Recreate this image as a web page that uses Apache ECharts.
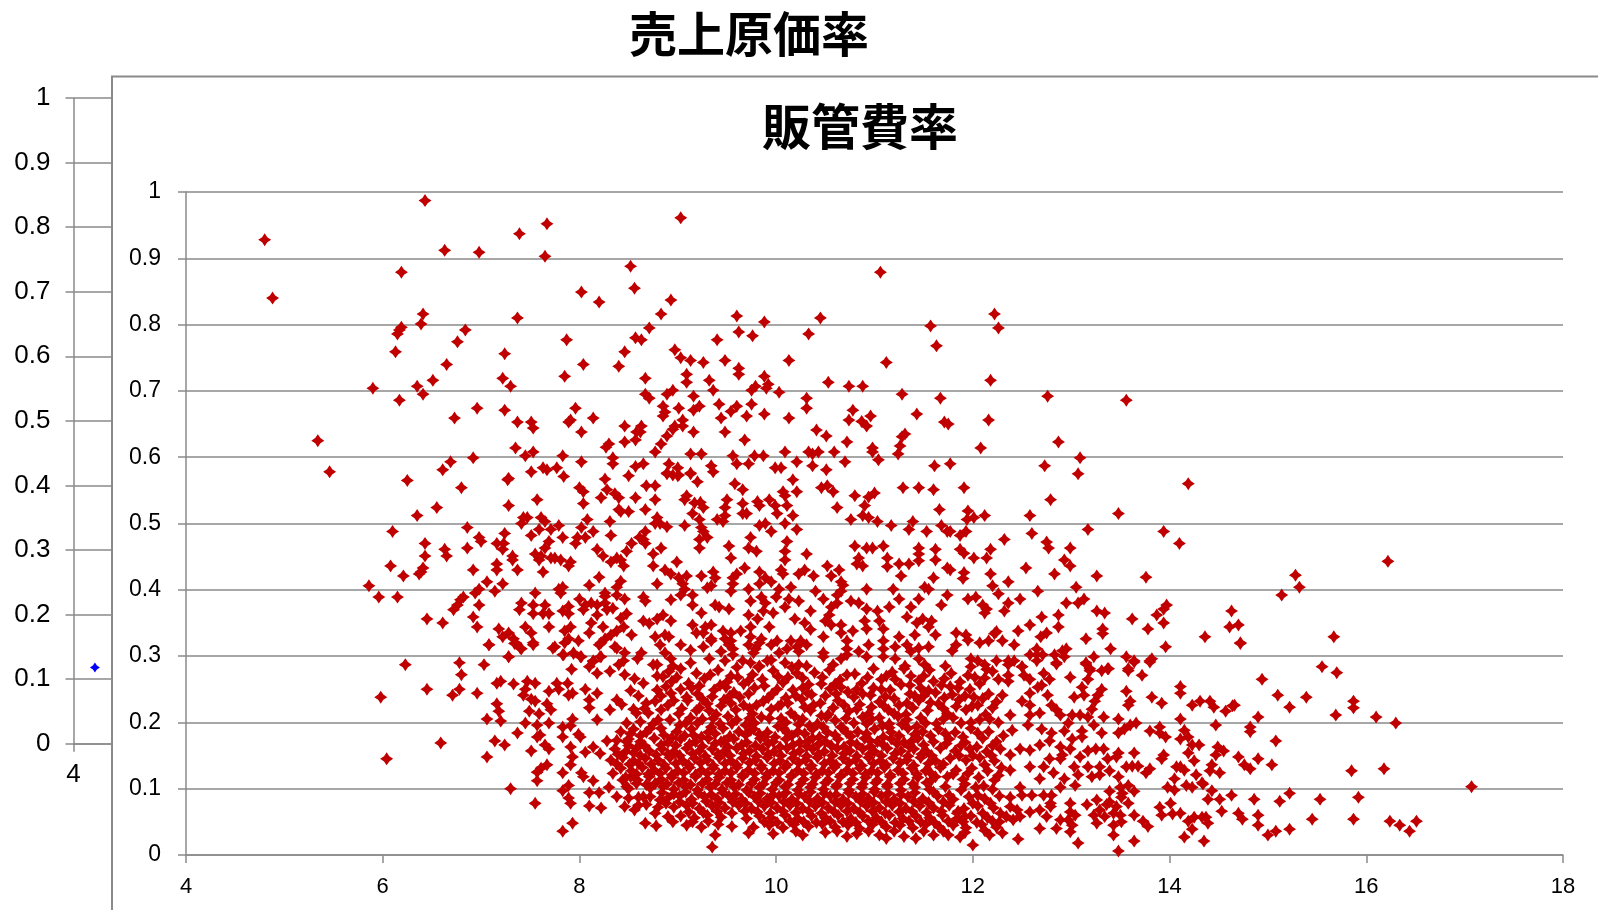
<!DOCTYPE html>
<html lang="ja"><head><meta charset="utf-8">
<style>html,body{margin:0;padding:0;background:#fff;overflow:hidden}#c{width:1598px;height:910px}</style>
<script src="https://cdn.jsdelivr.net/npm/echarts@6/dist/echarts.min.js"></script>
</head><body><div id="c"></div>
<script>
const outerTitle='売上原価率';
const innerTitle='販管費率';
const outerPoints=[[4.2,.118]];
const upperLeft=[[4.8,.928],[4.88,.84],[5.34,.625],[5.46,.578],[6.43,.987],[7.67,.952],[7.39,.937],[9.03,.961],[6.63,.912],[6.98,.909],[7.65,.903],[6.19,.879],[8.52,.888],[8.56,.855],[8.02,.849],[8.2,.834],[8.93,.837],[8.83,.816],[6.41,.816],[6.39,.801],[7.37,.81],[6.19,.796],[6.17,.792],[6.15,.786],[6.84,.792],[8.71,.795],[9.6,.813],[9.88,.804],[9.62,.789],[9.76,.783],[6.76,.774],[7.87,.777],[8.57,.78],[8.63,.777],[9.4,.777],[6.13,.759],[7.24,.756],[8.46,.759],[8.97,.762],[9.03,.75],[9.13,.746],[9.26,.743],[9.48,.746],[10.13,.746],[6.65,.74],[8.04,.74],[8.4,.737],[9.62,.734],[9.62,.725],[9.09,.725],[9.88,.722],[7.85,.722],[7.22,.719],[6.51,.716],[8.67,.719],[9.09,.713],[9.32,.716],[6.35,.707],[7.3,.707],[5.9,.704],[6.41,.695],[9.79,.707],[9.75,.701],[9.92,.71],[9.9,.704],[9.36,.701],[8.95,.701],[8.89,.695],[8.67,.695],[8.71,.689],[9.16,.692],[10.03,.698],[6.17,.686],[7.96,.674],[6.96,.674],[7.24,.671],[8.85,.677],[8.87,.668],[8.85,.662],[9.01,.674],[9.16,.671],[9.22,.677],[9.42,.68],[9.54,.669],[9.6,.677],[9.75,.68],[9.88,.665],[9.7,.662],[9.44,.659],[10.13,.659],[6.73,.659],[8.14,.659],[7.91,.656],[7.89,.653],[7.37,.653],[7.51,.653],[7.53,.644],[9.05,.656],[8.02,.638],[8.46,.647],[8.63,.647],[8.62,.638],[8.58,.638],[8.97,.647],[8.95,.642],[9.05,.647],[9.16,.638],[9.48,.638],[8.89,.632],[9.68,.626],[8.57,.626],[8.46,.623],[8.83,.62],[8.3,.62],[8.27,.615],[7.35,.614],[7.53,.608],[7.45,.602],[7.83,.602],[6.92,.599],[6.69,.593],[6.61,.581],[8.77,.608],[9.13,.605],[9.24,.605],[9.56,.602],[9.78,.602],[9.87,.602],[10.09,.608],[8.34,.599],[8.02,.593],[8.34,.59],[8.91,.59],[9.6,.59],[9.72,.59],[10.21,.593],[8.65,.59],[8.57,.586],[9.34,.587],[7.63,.584],[7.67,.581],[7.77,.584],[7.51,.578],[9,.584],[9.36,.578],[9.99,.584],[10.05,.584],[9.13,.576],[8.89,.576],[9,.572],[8.5,.572],[7.84,.571],[7.28,.568],[8.26,.567],[6.25,.565]];
const upperRight=[[11.06,.879],[10.45,.81],[12.22,.816],[12.26,.795],[11.57,.798],[10.33,.786],[11.63,.768],[11.12,.743],[10.53,.713],[10.74,.707],[10.88,.707],[12.18,.716],[11.28,.695],[10.31,.689],[10.31,.674],[11.67,.689],[12.76,.692],[13.56,.686],[10.78,.671],[10.96,.662],[11.43,.665],[10.74,.656],[10.87,.654],[10.92,.647],[11.71,.653],[11.75,.65],[12.16,.656],[10.41,.641],[10.51,.632],[11.31,.635],[11.28,.631],[10.72,.623],[12.87,.623],[11.26,.617],[10.98,.614],[10.98,.608],[12.08,.614],[11.24,.605],[10.33,.608],[10.37,.605],[10.43,.608],[10.59,.608],[11.04,.596],[10.7,.593],[13.09,.599],[10.37,.587],[10.51,.581],[11.61,.587],[11.77,.59],[12.73,.587],[13.07,.575]];
const middleLeft=[[6.8,.554],[7.27,.566],[8.68,.557],[8,.554],[8.04,.548],[8.28,.551],[8.22,.539],[8.36,.545],[8.4,.539],[8.57,.539],[7.57,.536],[8.04,.53],[7.28,.527],[6.55,.524],[6.35,.512],[8.4,.521],[8.42,.518],[8.5,.518],[8.67,.521],[7.47,.509],[7.43,.509],[7.41,.5],[7.61,.509],[7.65,.503],[7.79,.497],[8.08,.506],[8.31,.503],[6.86,.494],[6.1,.488],[7.59,.491],[7.71,.491],[8.02,.494],[8.14,.488],[7.24,.485],[8.67,.488],[7.51,.482],[7.83,.479],[8.32,.482],[6.98,.479],[7,.473],[8.06,.479],[7.98,.479],[7.96,.47],[7.69,.473],[8.61,.479],[8.65,.476],[8.67,.47],[8.53,.47],[6.43,.47],[7.16,.47],[7.23,.47],[7.65,.463],[6.63,.461],[6.86,.463],[7.22,.461],[8.18,.461],[8.48,.458],[6.43,.451],[6.65,.451],[7.55,.454],[7.32,.451],[7.32,.445],[8.24,.451],[7.59,.445],[7.61,.451],[7.71,.448],[7.75,.448],[7.81,.445],[7.91,.442],[7.89,.436],[8.38,.448],[8.32,.442],[8.42,.445],[8.45,.436],[6.08,.436],[7.16,.439],[6.41,.433],[6.39,.427],[6.37,.424],[7.16,.43],[6.92,.43],[7.37,.43],[7.63,.427],[6.21,.421],[7.06,.412],[8.2,.419],[8.42,.413],[8.38,.404],[7.22,.409],[8.1,.407],[5.86,.406],[7.79,.401],[7.83,.404],[7.81,.395],[6.98,.401],[6.94,.395],[7.14,.398],[7.55,.395],[5.96,.389],[6.15,.389],[8.26,.395],[8.38,.392],[8.46,.386],[8.65,.389],[8.67,.383],[6.82,.389],[6.79,.385],[6.76,.377],[6.72,.37],[8,.386],[7.41,.38],[7.39,.37],[6.98,.377],[7.53,.377],[7.53,.364],[7.65,.377],[7.63,.364],[7.69,.364],[7.89,.375],[7.83,.368],[7.89,.364],[8.06,.377],[8.12,.38],[8.04,.37],[8.18,.377],[8.18,.362],[8.26,.38],[8.26,.39],[8.28,.37],[8.34,.372],[8.48,.364],[8.42,.357],[6.92,.359],[6.45,.356],[6.61,.35],[6.96,.344],[7.18,.341],[7.45,.344],[7.69,.344],[7.91,.344],[7.85,.338],[8.12,.35],[8.24,.344],[8.65,.353],[8.71,.349],[7.28,.335],[7.22,.329],[7.51,.335],[8.1,.335],[8.53,.332],[8.45,.344],[8.38,.338],[8.32,.332],[8.26,.326],[8.22,.32],[7.33,.326],[7.35,.32],[7.08,.317],[7.53,.32],[7.41,.311],[7.89,.326],[7.99,.323],[7.85,.32],[7.75,.314],[8.2,.317],[8.36,.314],[7.83,.302],[7.94,.305],[8.02,.299],[8.22,.299],[8.46,.305],[8.63,.305],[8.59,.296],[7.28,.299],[6.23,.287],[6.78,.29],[7.03,.287],[8.14,.293],[8.45,.293],[7.92,.28],[8.1,.284],[8.4,.287]];
const middleCentre=[[8.89,.575],[8.95,.573],[9.01,.573],[9.13,.575],[9.2,.563],[8.77,.557],[9.58,.56],[9.66,.551],[10.17,.566],[10.21,.548],[10.07,.548],[10.09,.542],[10.46,.554],[10.52,.557],[10.58,.548],[11.29,.554],[11.45,.554],[11.6,.551],[10.8,.542],[11,.546],[10.94,.54],[8.77,.536],[9.09,.542],[9.07,.536],[9.5,.536],[9.17,.531],[9.23,.532],[9.26,.524],[9.66,.53],[9.81,.533],[9.83,.527],[9.93,.536],[9.99,.527],[10.11,.527],[10.9,.527],[10.62,.524],[9.48,.524],[9.48,.512],[10.01,.515],[9.15,.515],[9.7,.515],[9.66,.515],[10.17,.512],[10.88,.512],[10.94,.509],[11.66,.521],[8.79,.509],[9.22,.506],[9.4,.506],[9.46,.503],[8.77,.5],[8.82,.5],[8.89,.495],[9.07,.497],[9.83,.497],[9.89,.5],[10.09,.5],[10.76,.506],[11.03,.503],[11.17,.497],[11.39,.503],[11.68,.497],[11.35,.491],[9.95,.488],[10.21,.491],[9.24,.494],[9.26,.488],[11.53,.488],[11.74,.488],[9.3,.479],[9.22,.476],[9.74,.479],[10.11,.473],[9.22,.463],[9.52,.466],[9.72,.463],[8.83,.463],[10.8,.466],[10.92,.463],[10.98,.463],[11.09,.466],[11.45,.463],[11.62,.461],[9.8,.458],[10.09,.458],[10.31,.454],[8.75,.454],[9.54,.448],[10.09,.445],[10.84,.448],[11.13,.448],[11.45,.454],[11.62,.445],[8.99,.442],[10.88,.436],[10.82,.439],[10.52,.436],[11.13,.435],[11.25,.439],[11.35,.439],[11.45,.444],[8.75,.436],[9.68,.433],[8.87,.43],[9.36,.427],[10.05,.43],[10.29,.43],[10.64,.43],[8.93,.424],[9.6,.424],[9.83,.427],[10.07,.424],[10.23,.424],[10.38,.421],[10.56,.421],[11.27,.421],[11.6,.418],[11.74,.433],[9.24,.421],[9.09,.421],[9.01,.418],[9.38,.418],[9.89,.418],[9.56,.418],[8.79,.409],[9.05,.409],[9.83,.409],[9.95,.412],[10.66,.412],[9.56,.409],[9.34,.406],[9.3,.403],[10.68,.407],[11.51,.404],[9.07,.401],[9.72,.401],[10.03,.401],[10.15,.404],[10.66,.398],[10.4,.398],[10.92,.401],[11.19,.401],[11.55,.401],[9.54,.398],[9.03,.392],[8.93,.385],[9.15,.392],[10.62,.392],[10.48,.386],[9.85,.389],[10,.389],[10.13,.386],[10.23,.383],[10.76,.383],[10.84,.38],[11.25,.386],[11.45,.386],[11.74,.392],[9.74,.383],[9.89,.38],[10.62,.38],[9.15,.377],[9.38,.377],[9.42,.374],[9.52,.371],[10.09,.374],[10.92,.371],[11.03,.368],[11.15,.374],[11.37,.374],[11.68,.377],[10.35,.368],[10.56,.374],[9.97,.365],[9.72,.362],[9.24,.365],[9.87,.368],[9.81,.356],[10.19,.356],[10.54,.362],[10.5,.353],[11.33,.359],[11.49,.356],[11.58,.353],[8.93,.353],[8.85,.362],[8.79,.356],[10.29,.35],[10.9,.353],[11.05,.353],[11.43,.35],[9.93,.344],[9.15,.347],[9.34,.347],[9.28,.344],[9.74,.344],[10.66,.347],[10.56,.347],[10.92,.341],[11.09,.341],[11.55,.344],[9.46,.338],[9.54,.335],[9.64,.338],[9.19,.335],[9.26,.335],[10.35,.34],[10.78,.338],[10.48,.329],[10.66,.335],[11.25,.329],[11.41,.332],[11.62,.332],[9.74,.329],[8.87,.332],[8.77,.329],[8.91,.329],[9.34,.326],[9.48,.326],[9.54,.323],[9.85,.326],[10.15,.323],[10.25,.323],[10.72,.323],[11.09,.323],[9.03,.317],[8.82,.317],[10.94,.317],[11.21,.314],[11.33,.317],[11.45,.312],[11.55,.314],[10.01,.323],[9.95,.317],[9.72,.317],[10.21,.314],[10.31,.317],[10.72,.311],[11.09,.311],[9.13,.309],[9.26,.314],[9.34,.323],[9.52,.317],[9.56,.311],[9.79,.311],[9.83,.32],[10.11,.311],[10.23,.307],[10.84,.307],[8.87,.305],[9.56,.302],[9.44,.307],[10.48,.305],[10.72,.302],[11.37,.307],[8.93,.296],[11.09,.299],[10.48,.299],[10.03,.305],[9.77,.305],[9.91,.293],[9.95,.294],[9.32,.296],[9.66,.293],[10.66,.296],[9.48,.293],[10.92,.299],[11.21,.296],[11.45,.296],[9.13,.29],[9.74,.29],[10.09,.29],[8.79,.287],[8.95,.285],[9.83,.285],[10.23,.287],[10.58,.287],[10.31,.285],[11.31,.285],[11.51,.287],[11.72,.285]];
const middleRight=[[14.19,.56],[11.91,.554],[12.79,.536],[11.95,.519],[12.12,.512],[12.58,.512],[13.48,.515],[12.01,.509],[11.94,.506],[11.77,.488],[11.93,.488],[11.87,.482],[12.6,.485],[13.17,.491],[13.94,.488],[14.1,.47],[12.32,.476],[12.75,.472],[12.77,.463],[12.99,.463],[11.87,.461],[11.91,.455],[12.18,.461],[12.01,.448],[12.14,.448],[12.93,.445],[12.99,.436],[12.54,.433],[11.77,.43],[11.91,.426],[12.18,.424],[12.83,.424],[13.26,.421],[13.76,.419],[11.9,.417],[12.36,.412],[12.2,.406],[13.05,.404],[12.66,.398],[12.26,.394],[12.48,.386],[11.95,.386],[12.03,.389],[12.36,.38],[12.95,.38],[13.07,.38],[13.13,.386],[13.97,.377],[13.94,.371],[12.1,.377],[12.14,.371],[12.12,.365],[12.32,.368],[13.26,.368],[13.34,.365],[13.87,.362],[14.63,.368],[12.7,.359],[12.87,.362],[13.62,.356],[13.94,.35],[12.58,.347],[12.87,.344],[13.32,.341],[13.32,.334],[13.78,.341],[14.61,.344],[14.7,.347],[11.83,.335],[11.93,.332],[11.95,.324],[12.24,.337],[12.22,.334],[12.46,.338],[12.75,.335],[12.69,.329],[12.3,.323],[12.07,.32],[12.16,.323],[13.15,.326],[14.36,.329],[14.72,.32],[12.42,.317],[11.83,.317],[11.79,.308],[12.95,.311],[12.91,.308],[12.65,.311],[13.4,.311],[13.96,.314],[12.58,.302],[12.71,.302],[12.65,.302],[12.83,.302],[12.93,.299],[13.23,.299],[13.56,.299],[13.82,.296],[13.8,.293],[13.64,.293],[11.98,.296],[12.05,.293],[12.24,.293],[12.36,.293],[12.42,.293],[12.65,.293],[12.85,.29],[13.15,.29],[12.5,.284],[12.12,.287],[11.98,.284],[12.36,.287],[13.38,.281],[13.19,.281],[13.58,.281],[16.22,.443],[15.28,.422],[15.32,.404],[15.14,.392],[15.67,.329],[15.55,.284],[15.7,.275]];
const lowerRight=[[14.72,.319],[14.94,.265],[15.1,.241],[15.39,.238],[15.87,.232],[15.87,.222],[15.22,.223],[14.41,.232],[14.31,.232],[14.45,.223],[14.57,.217],[14.66,.226],[14.64,.225],[14.9,.208],[15.69,.211],[16.1,.208],[16.3,.199],[14.47,.196],[14.82,.193],[14.82,.186],[15.08,.172],[14.49,.163],[14.55,.157],[14.47,.151],[14.7,.148],[14.9,.145],[14.76,.136],[14.82,.13],[15.04,.136],[14.43,.136],[14.41,.127],[14.51,.124],[15.85,.127],[16.18,.13],[17.07,.103],[14.34,.107],[14.43,.097],[14.63,.09],[15.22,.093],[15.92,.087],[14.39,.084],[14.51,.084],[14.86,.084],[15.53,.084],[15.12,.081],[14.53,.066],[14.7,.063],[14.9,.06],[14.74,.054],[14.37,.057],[14.39,.048],[15.45,.054],[14.9,.045],[15.87,.054],[16.24,.051],[16.34,.045],[16.51,.051],[16.44,.036],[15.22,.039],[15.08,.036],[15,.03],[14.35,.021],[14.11,.254],[14.11,.244],[13.82,.238],[13.92,.229],[13.56,.247],[13.58,.278],[13.72,.271],[13.64,.291],[13.8,.291],[14.23,.226],[13.6,.232],[13.58,.226],[12.99,.268],[12.85,.288],[13.15,.288],[13.19,.278],[13.17,.265],[13.31,.278],[13.37,.281],[12.72,.274],[12.5,.284],[12.52,.271],[12.58,.265],[12.36,.271],[12.36,.262],[12.78,.265],[12.7,.256],[12.66,.253],[12.58,.244],[12.76,.241],[12.3,.241],[13.11,.253],[13.03,.238],[13.13,.241],[13.31,.25],[13.27,.241],[13.24,.232],[13.21,.22],[12.5,.232],[12.58,.226],[12.8,.226],[12.85,.219],[12.89,.211],[12.68,.214],[12.38,.211],[12.58,.211],[13.01,.211],[13.09,.211],[13.33,.208],[13.17,.208],[13.48,.205],[14.11,.205],[13.66,.199],[13.6,.196],[13.54,.19],[13.48,.184],[13.8,.187],[13.9,.193],[13.9,.184],[13.96,.178],[13.23,.196],[13.31,.184],[12.97,.199],[12.93,.187],[12.56,.196],[12.4,.188],[12.7,.19],[12.8,.184],[13.11,.187],[13.11,.178],[13.01,.175],[12.78,.172],[12.68,.166],[12.89,.163],[14.11,.175],[14.15,.188],[14.19,.178],[14.23,.166],[14.3,.166],[14.19,.154],[13.64,.154],[13.48,.154],[13.33,.16],[13.25,.16],[13.17,.157],[13.09,.148],[12.99,.16],[12.91,.151],[12.48,.16],[12.58,.158],[12.38,.151],[12.78,.145],[12.89,.145],[14.25,.142],[13.94,.151],[13.92,.145],[13.46,.148],[13.37,.145],[13.8,.13],[13.76,.124],[13.62,.134],[13.56,.133],[13.68,.134],[14.11,.133],[14.07,.133],[14.15,.128],[13.17,.133],[13.29,.133],[13.39,.127],[13.03,.133],[13.07,.121],[13.21,.118],[13.29,.121],[13.48,.118],[12.93,.115],[12.72,.133],[12.58,.133],[12.38,.128],[12.82,.124],[12.68,.115],[14.05,.115],[14.27,.121],[14.33,.109],[12.89,.102],[13.04,.105],[13.58,.105],[13.5,.102],[13.98,.102],[14.05,.098],[14.17,.105],[14.23,.102],[13.39,.096],[13.64,.096],[13.52,.093],[12.48,.102],[12.5,.09],[12.6,.09],[12.72,.09],[12.8,.09],[12.38,.087],[13.58,.078],[14.01,.078],[13.9,.072],[13.51,.087],[13.39,.08],[12.38,.073],[12.79,.078],[12.99,.078],[13.16,.076],[13.26,.083],[13.36,.076],[13.46,.073],[13.92,.06],[14.03,.062],[14.11,.063],[13.64,.06],[13.73,.051],[13.78,.043],[14.25,.057],[14.33,.057],[14.19,.051],[14.23,.039],[14.15,.027],[13.64,.021],[13.48,.006],[13.07,.018],[13.43,.03],[12.46,.024],[12.3,.033],[13.29,.068],[13.23,.06],[13.34,.058],[13.26,.048],[13.43,.045],[13.51,.05],[13.5,.06],[13.43,.063],[12.99,.065],[13.04,.06],[12.97,.053],[13.01,.045],[12.99,.035],[12.89,.053],[12.85,.04],[12.68,.04],[12.75,.058],[12.58,.065],[12.68,.068],[12.79,.073],[12.45,.068],[12.34,.058],[12.41,.053],[12.48,.058],[12.28,.063]];
const lowerLeft=[[6.8,.272],[7.08,.317],[7.28,.299],[6.45,.25],[5.98,.238],[6.78,.25],[6.71,.241],[6.96,.244],[7.16,.259],[7.2,.262],[7.33,.258],[7.47,.262],[7.55,.259],[7.45,.25],[7.43,.241],[7.16,.228],[7.18,.217],[7.06,.205],[7.2,.202],[7.51,.235],[7.55,.232],[7.69,.247],[7.77,.259],[7.79,.25],[7.88,.259],[7.89,.241],[7.93,.244],[8.06,.25],[8.18,.244],[8.1,.234],[8.1,.222],[7.49,.217],[7.59,.213],[7.67,.228],[7.71,.219],[7.45,.199],[7.57,.196],[7.69,.199],[7.93,.205],[7.91,.195],[7.83,.193],[7.37,.184],[7.6,.181],[7.57,.178],[7.83,.178],[7.99,.182],[7.14,.172],[7.24,.166],[6.59,.169],[7.65,.166],[7.69,.16],[7.51,.157],[7.91,.163],[7.06,.148],[6.04,.145],[7.93,.148],[7.67,.136],[7.61,.131],[7.57,.125],[7.91,.136],[7.83,.124],[8.02,.124],[8.04,.118],[7.57,.112],[8.14,.112],[7.89,.105],[7.3,.1],[7.83,.097],[7.89,.086],[7.91,.078],[7.55,.078],[8.1,.094],[8.1,.074],[8.2,.094],[8.22,.071],[7.93,.048],[7.83,.036],[8.56,.068],[8.67,.048],[8.78,.044],[8.77,.063],[8.3,.102],[8.06,.155],[8.21,.153],[8.14,.163],[8.38,.173],[8.34,.123],[8.38,.088],[8.48,.103],[8.82,.083],[8.85,.103],[8.65,.088],[8.58,.108],[8.01,.178],[8.18,.204],[8.31,.219],[8.38,.234],[8.48,.199],[8.58,.214],[8.68,.229],[8.79,.249],[8.65,.259],[8.85,.269],[8.75,.287],[8.46,.272],[8.38,.312],[8.21,.299],[8.14,.292],[8.18,.274],[8.31,.277],[7.94,.304],[8.01,.299],[7.84,.302],[7.73,.312],[7.53,.317],[7.4,.312],[7.34,.319]];
const coreUpper=[[8.91,.277],[9.03,.281],[9.19,.274],[9.41,.279],[9.6,.283],[9.76,.272],[9.97,.278],[10.16,.283],[10.39,.275],[10.54,.279],[10.8,.273],[10.99,.281],[11.18,.276],[11.37,.27],[11.56,.279],[11.78,.274],[11.95,.271],[12.2,.277],[8.56,.266],[8.94,.262],[9.11,.259],[9.27,.266],[9.5,.261],[9.67,.258],[9.86,.265],[10.07,.26],[10.27,.267],[10.46,.258],[10.65,.264],[10.87,.259],[11.07,.265],[11.27,.257],[11.45,.263],[11.68,.256],[11.87,.261],[12.07,.258],[12.26,.265],[8.52,.248],[8.93,.244],[9.03,.25],[9.2,.243],[9.37,.249],[9.57,.245],[9.78,.252],[9.96,.243],[10.17,.249],[10.36,.242],[10.55,.251],[10.73,.246],[10.96,.241],[11.16,.249],[11.36,.243],[11.55,.248],[11.79,.242],[11.97,.25],[12.16,.243],[8.43,.227],[8.77,.232],[8.9,.226],[9.1,.233],[9.3,.228],[9.47,.234],[9.67,.226],[9.87,.232],[10.05,.227],[10.26,.235],[10.45,.229],[10.63,.233],[10.85,.227],[11.05,.231],[11.25,.226],[11.45,.233],[11.65,.228],[11.86,.234],[12.05,.226],[12.24,.231],[8.7,.214],[8.83,.219],[9.01,.213],[9.19,.218],[9.39,.212],[9.59,.219],[9.76,.213],[9.95,.22],[10.15,.214],[10.35,.218],[10.53,.212],[10.74,.217],[10.94,.213],[11.14,.219],[11.32,.212],[11.54,.218],[11.74,.213],[11.93,.219],[12.13,.212],[8.62,.201],[8.75,.198],[8.92,.204],[9.08,.199],[9.25,.205],[9.43,.198],[9.6,.204],[9.78,.199],[9.93,.206],[10.1,.2],[10.27,.205],[10.42,.198],[10.6,.203],[10.79,.199],[10.97,.205],[11.15,.198],[11.33,.204],[11.52,.199],[11.7,.205],[11.88,.199],[12.07,.204],[12.26,.2],[8.42,.186],[8.55,.19],[8.68,.185],[8.83,.191],[8.99,.186],[9.14,.19],[9.31,.185],[9.46,.191],[9.62,.186],[9.77,.19],[9.91,.185],[10.07,.191],[10.22,.186],[10.37,.19],[10.52,.185],[10.68,.191],[10.83,.186],[11,.19],[11.17,.185],[11.34,.191],[11.49,.186],[11.65,.19],[11.82,.185],[11.98,.191],[12.16,.186]];
const coreMiddle=[[8.28,.172],[8.5,.175],[8.62,.171],[8.76,.176],[8.9,.17],[9.03,.175],[9.18,.171],[9.31,.176],[9.44,.171],[9.57,.175],[9.7,.17],[9.84,.176],[9.97,.171],[10.1,.175],[10.24,.17],[10.37,.176],[10.5,.171],[10.63,.175],[10.76,.17],[10.9,.176],[11.03,.171],[11.17,.175],[11.3,.17],[11.44,.176],[11.6,.171],[11.76,.175],[11.92,.17],[12.1,.176],[12.24,.171],[8.36,.16],[8.47,.156],[8.58,.161],[8.71,.157],[8.84,.16],[8.96,.156],[9.09,.161],[9.22,.157],[9.35,.16],[9.47,.156],[9.6,.161],[9.73,.157],[9.86,.16],[9.98,.156],[10.11,.161],[10.24,.157],[10.37,.16],[10.49,.156],[10.62,.161],[10.75,.157],[10.88,.16],[11,.156],[11.13,.161],[11.27,.157],[11.4,.16],[11.53,.156],[11.67,.161],[11.82,.157],[11.97,.16],[12.14,.156],[12.28,.16],[8.32,.143],[8.44,.147],[8.55,.142],[8.67,.146],[8.8,.143],[8.92,.147],[9.05,.142],[9.17,.146],[9.3,.143],[9.42,.147],[9.54,.142],[9.66,.146],[9.79,.143],[9.91,.147],[10.04,.142],[10.17,.146],[10.3,.143],[10.42,.147],[10.55,.142],[10.68,.146],[10.81,.143],[10.94,.147],[11.06,.142],[11.19,.146],[11.33,.143],[11.47,.147],[11.62,.142],[11.77,.146],[11.93,.143],[12.07,.147],[12.22,.142],[8.42,.131],[8.53,.127],[8.64,.132],[8.76,.128],[8.88,.131],[9,.127],[9.12,.132],[9.24,.128],[9.36,.131],[9.48,.127],[9.6,.132],[9.72,.128],[9.85,.131],[9.97,.127],[10.09,.132],[10.22,.128],[10.35,.131],[10.47,.127],[10.59,.132],[10.72,.128],[10.85,.131],[10.97,.127],[11.1,.132],[11.24,.128],[11.38,.131],[11.52,.127],[11.67,.132],[11.83,.128],[11.99,.131],[12.15,.127],[12.29,.132],[8.47,.117],[8.59,.113],[8.71,.118],[8.83,.114],[8.94,.117],[9.06,.113],[9.18,.118],[9.3,.114],[9.42,.117],[9.54,.113],[9.66,.118],[9.78,.114],[9.9,.117],[10.03,.113],[10.15,.118],[10.28,.114],[10.4,.117],[10.53,.113],[10.65,.118],[10.78,.114],[10.91,.117],[11.03,.113],[11.16,.118],[11.3,.114],[11.44,.117],[11.58,.113],[11.74,.118],[11.9,.114],[12.06,.117],[12.22,.113]];
const coreLower=[[8.72,.101],[8.96,.099],[9.08,.103],[9.2,.098],[9.33,.102],[9.45,.099],[9.57,.103],[9.7,.098],[9.83,.102],[9.96,.099],[10.09,.103],[10.22,.098],[10.35,.102],[10.48,.099],[10.61,.103],[10.74,.098],[10.87,.102],[11,.099],[11.13,.103],[11.27,.098],[11.41,.102],[11.56,.099],[11.72,.103],[11.88,.098],[12.03,.102],[12.2,.099],[8.6,.087],[8.9,.086],[9.02,.089],[9.14,.084],[9.27,.088],[9.4,.085],[9.52,.089],[9.65,.084],[9.78,.088],[9.91,.085],[10.03,.089],[10.16,.084],[10.29,.088],[10.42,.085],[10.55,.089],[10.68,.084],[10.81,.088],[10.94,.085],[11.07,.089],[11.2,.084],[11.34,.088],[11.49,.085],[11.64,.089],[11.8,.084],[11.96,.088],[12.12,.085],[12.27,.089],[8.46,.073],[8.68,.076],[8.96,.072],[9.09,.075],[9.22,.07],[9.35,.074],[9.48,.071],[9.62,.075],[9.75,.07],[9.88,.074],[10.01,.071],[10.14,.075],[10.27,.07],[10.4,.074],[10.53,.071],[10.66,.075],[10.79,.07],[10.92,.074],[11.05,.071],[11.18,.075],[11.32,.07],[11.46,.074],[11.6,.071],[11.76,.075],[11.91,.07],[12.05,.074],[12.21,.071],[9.03,.059],[9.17,.056],[9.3,.06],[9.44,.057],[9.7,.055],[9.83,.059],[9.95,.056],[10.09,.06],[10.22,.055],[10.36,.059],[10.5,.056],[10.63,.06],[10.76,.055],[10.88,.059],[11.02,.056],[11.15,.06],[11.29,.055],[11.42,.059],[11.56,.056],[11.69,.06],[11.84,.055],[11.98,.059],[12.15,.056],[9.09,.045],[9.24,.042],[9.41,.046],[9.55,.043],[9.77,.042],[9.93,.045],[10.07,.041],[10.18,.046],[10.33,.043],[10.47,.047],[10.6,.042],[10.73,.045],[10.85,.04],[10.98,.046],[11.12,.042],[11.26,.045],[11.39,.041],[11.52,.046],[11.66,.042],[11.8,.045],[11.93,.041],[12.09,.046],[12.24,.042],[9.35,.012],[9.38,.03],[9.72,.033],[9.97,.032],[10.27,.03],[10.5,.034],[10.72,.028],[10.82,.032],[11.05,.03],[11.12,.025],[11.3,.028],[11.42,.025],[11.6,.03],[11.75,.03],[11.87,.027],[12,.015],[12.17,.03]];
const coreDense=[[9.02,.196],[9.13,.207],[9.34,.193],[9.51,.209],[9.69,.196],[9.85,.208],[10.02,.194],[10.19,.209],[10.34,.195],[10.51,.208],[10.66,.193],[10.88,.208],[11.08,.195],[11.24,.209],[11.43,.194],[8.86,.181],[9.07,.18],[9.24,.178],[9.38,.183],[9.53,.179],[9.69,.181],[9.83,.182],[9.99,.178],[10.16,.18],[10.29,.183],[10.44,.178],[10.6,.181],[10.76,.179],[10.92,.183],[11.09,.178],[11.25,.18],[11.41,.182],[8.83,.166],[8.98,.165],[9.12,.167],[9.25,.164],[9.38,.168],[9.51,.163],[9.65,.166],[9.79,.165],[9.92,.168],[10.04,.163],[10.17,.166],[10.31,.164],[10.43,.167],[10.56,.165],[10.69,.163],[10.82,.167],[10.96,.164],[11.09,.166],[11.23,.168],[11.36,.163],[11.5,.166],[8.78,.151],[8.9,.152],[9.02,.15],[9.15,.153],[9.28,.149],[9.41,.152],[9.53,.15],[9.67,.153],[9.8,.149],[9.92,.152],[10.05,.15],[10.18,.153],[10.31,.149],[10.43,.152],[10.57,.15],[10.69,.153],[10.82,.149],[10.95,.152],[11.07,.15],[11.21,.153],[11.34,.149],[11.48,.152],[8.73,.137],[8.86,.136],[8.98,.138],[9.11,.136],[9.23,.139],[9.36,.135],[9.48,.138],[9.6,.136],[9.73,.139],[9.85,.135],[9.98,.138],[10.11,.136],[10.23,.139],[10.36,.135],[10.49,.138],[10.61,.136],[10.74,.139],[10.87,.135],[10.99,.138],[11.12,.136],[11.26,.139],[11.4,.135],[11.55,.138],[8.7,.122],[8.82,.123],[8.94,.121],[9.06,.124],[9.18,.121],[9.3,.123],[9.42,.122],[9.54,.124],[9.66,.121],[9.78,.123],[9.91,.122],[10.03,.124],[10.16,.121],[10.28,.123],[10.41,.122],[10.53,.124],[10.66,.121],[10.78,.123],[10.91,.122],[11.03,.124],[11.16,.121],[11.29,.123],[11.43,.122],[11.57,.124],[8.77,.108],[8.89,.107],[9.01,.109],[9.13,.106],[9.25,.108],[9.38,.107],[9.5,.109],[9.62,.106],[9.75,.108],[9.87,.107],[10,.109],[10.12,.106],[10.25,.108],[10.37,.107],[10.5,.109],[10.62,.106],[10.75,.108],[10.88,.107],[11.01,.109],[11.13,.106],[11.26,.108],[11.39,.107],[11.53,.109],[8.84,.094],[8.96,.092],[9.08,.095],[9.21,.093],[9.34,.091],[9.46,.094],[9.59,.092],[9.72,.095],[9.84,.093],[9.97,.091],[10.1,.094],[10.23,.092],[10.35,.095],[10.49,.093],[10.61,.091],[10.74,.094],[10.88,.092],[11,.095],[11.14,.093],[11.27,.091],[11.41,.094],[8.88,.078],[9.02,.08],[9.15,.078],[9.29,.081],[9.42,.079],[9.56,.08],[9.69,.078],[9.82,.081],[9.95,.079],[10.08,.08],[10.21,.078],[10.34,.081],[10.47,.079],[10.6,.08],[10.73,.078],[10.86,.081],[10.99,.079],[11.12,.08],[11.26,.078],[11.4,.081],[11.55,.079],[9.11,.065],[9.26,.064],[9.4,.066],[9.55,.063],[9.68,.066],[9.81,.065],[9.94,.063],[10.07,.066],[10.2,.064],[10.33,.066],[10.46,.063],[10.59,.065],[10.72,.066],[10.85,.064],[10.98,.066],[11.11,.063],[11.25,.065],[11.38,.066],[11.53,.064],[11.68,.066],[11.84,.063],[8.95,.05],[9.15,.05],[9.31,.051],[9.88,.05],[10.01,.049],[10.14,.051],[10.28,.05],[10.41,.049],[10.55,.051],[10.68,.05],[10.81,.049],[10.94,.051],[11.07,.05],[11.21,.049],[11.35,.051],[11.47,.05],[11.61,.049],[11.75,.051],[11.9,.05],[12.04,.049],[12.2,.051],[10.2,.036],[10.62,.036],[10.94,.036],[11.2,.036],[11.5,.036],[11.7,.036],[11.92,.034],[12.12,.037],[8.5,.1],[8.55,.154],[8.62,.18],[8.68,.106],[8.51,.137],[8.58,.122],[8.44,.113],[9.22,.222],[9.44,.225],[9.73,.221],[10.02,.224],[10.29,.223],[10.58,.222],[10.82,.22],[11.1,.224],[11.39,.222],[11.7,.221],[11.99,.224],[9.09,.238],[9.35,.239],[9.63,.238],[9.92,.237],[10.2,.24],[10.5,.24],[10.79,.238],[11.11,.239],[11.41,.24],[11.71,.237],[12.01,.238],[9.14,.252],[9.49,.253],[9.88,.255],[10.27,.252],[10.66,.253],[11.07,.25],[11.47,.252],[11.85,.252]];
const coreFill=[[8.79,.27],[8.99,.268],[9.33,.272],[9.54,.27],[9.82,.283],[10.02,.269],[10.21,.274],[10.47,.268],[10.72,.272],[10.93,.268],[11.12,.27],[11.3,.281],[11.5,.27],[11.71,.266],[12.02,.268],[12.14,.28],[8.88,.254],[9.22,.255],[9.43,.256],[9.61,.268],[9.72,.263],[10.01,.25],[10.12,.268],[10.33,.257],[10.6,.258],[10.82,.25],[10.99,.252],[11.21,.265],[11.36,.256],[11.6,.262],[11.77,.254],[12.12,.267],[8.6,.24],[8.83,.24],[9.25,.235],[9.53,.24],[9.72,.243],[10.1,.237],[10.32,.244],[10.61,.243],[10.88,.243],[11.2,.236],[11.5,.24],[11.62,.245],[11.92,.24],[12.1,.236],[8.55,.22],[8.66,.221],[8.96,.233],[9.04,.221],[9.32,.218],[9.54,.229],[9.8,.226],[10.12,.229],[10.38,.226],[10.69,.226],[10.97,.223],[11.2,.213],[11.33,.229],[11.57,.23],[11.83,.224],[12.2,.222],[8.8,.204],[9.2,.199],[9.36,.206],[9.55,.198],[9.73,.206],[10.05,.206],[10.23,.197],[10.46,.21],[10.71,.206],[10.92,.198],[11.05,.207],[11.28,.197],[11.47,.207],[11.63,.198],[11.8,.207],[11.98,.2],[12.17,.205],[8.48,.171],[8.52,.183],[8.72,.191],[8.94,.177],[9.16,.181],[9.47,.172],[9.74,.188],[9.88,.178],[10.12,.184],[10.33,.172],[10.48,.193],[10.72,.184],[10.95,.173],[11.15,.192],[11.38,.172],[11.57,.18],[11.72,.183],[11.9,.178],[12.05,.184],[12.2,.165],[8.39,.152],[8.62,.15],[8.5,.165],[8.66,.165],[11.58,.15],[11.73,.168],[11.88,.165],[12.04,.163],[12.19,.15],[12.31,.18],[8.38,.137],[8.6,.138],[11.7,.137],[11.86,.15],[12,.15],[12.12,.136],[12.26,.12],[8.52,.118],[11.62,.118],[11.8,.122],[11.95,.123],[12.11,.104],[8.5,.086],[8.72,.088],[8.8,.072],[11.6,.095],[11.76,.09],[11.92,.107],[12.05,.09],[12.18,.078],[8.6,.075],[8.9,.058],[11.7,.08],[11.85,.066],[12,.078],[12.1,.063],[11.92,.058],[12.27,.05]];
const xTicks=[4,18],yTicks=[0,1];
const symbol='path://M5,0L7,3L10,5L7,7L5,10L3,7L0,5L3,3Z';
const gray='#8a8a8a', tickFont='"Liberation Sans",Arial,sans-serif', jp='"Noto Sans CJK JP",sans-serif';
const innerData=[].concat(upperLeft,upperRight,middleLeft,middleCentre,middleRight,lowerRight,lowerLeft,coreUpper,coreMiddle,coreDense,coreFill,coreLower);
const chart=echarts.init(document.getElementById('c'),null,{renderer:'canvas'});
const axisBase=(grid,z,size,margin,pad)=>({gridIndex:grid,type:'value',z,
  axisLine:{show:true,onZero:false,lineStyle:{color:gray,width:1.5}},
  axisTick:{show:true,length:8,lineStyle:{color:gray,width:1.5}},
  axisLabel:{color:'#000',fontFamily:tickFont,fontSize:size,margin,padding:pad,hideOverlap:false,showMinLabel:true,showMaxLabel:true},
});
chart.setOption({
  animation:false,backgroundColor:'#fff',
  title:[
    {text:outerTitle,left:744,top:5,textAlign:'center',textStyle:{fontFamily:jp,fontWeight:'bold',fontSize:48,color:'#000'}},
    {text:innerTitle,left:855,top:97,textAlign:'center',textStyle:{fontFamily:jp,fontWeight:'bold',fontSize:49,color:'#000'}}
  ],
  grid:[
    {left:73.5,top:98,width:1500,height:645.7},
    {left:186,top:192,width:1377,height:663}
  ],
  xAxis:[
    Object.assign(axisBase(0,0,26,18,0),{min:xTicks[0],max:xTicks[1],interval:2,splitLine:{show:false}}),
    Object.assign(axisBase(1,2,22,21,0),{min:xTicks[0],max:xTicks[1],interval:2,splitLine:{show:false}})
  ],
  yAxis:[
    Object.assign(axisBase(0,0,26,23,[9,0,0,0]),{min:yTicks[0],max:yTicks[1],interval:.1,splitLine:{show:true,lineStyle:{color:gray,width:1.5}}}),
    Object.assign(axisBase(1,2,23,25,[9,0,0,0]),{min:yTicks[0],max:yTicks[1],interval:.1,splitLine:{show:true,lineStyle:{color:gray,width:1.5}}})
  ],
  graphic:{elements:[{type:'rect',z:1,silent:true,shape:{x:112,y:76.5,width:1600,height:900},style:{fill:'#fff',stroke:gray,lineWidth:2}}]},
  series:[
    {type:'scatter',xAxisIndex:0,yAxisIndex:0,z:0,data:outerPoints,symbol,symbolSize:10,itemStyle:{color:'#0000ff',opacity:1},silent:true},
    {type:'scatter',xAxisIndex:1,yAxisIndex:1,z:3,data:innerData,symbol,symbolSize:13,itemStyle:{color:'#c00000',opacity:1},silent:true}
  ]
});
</script></body></html>
